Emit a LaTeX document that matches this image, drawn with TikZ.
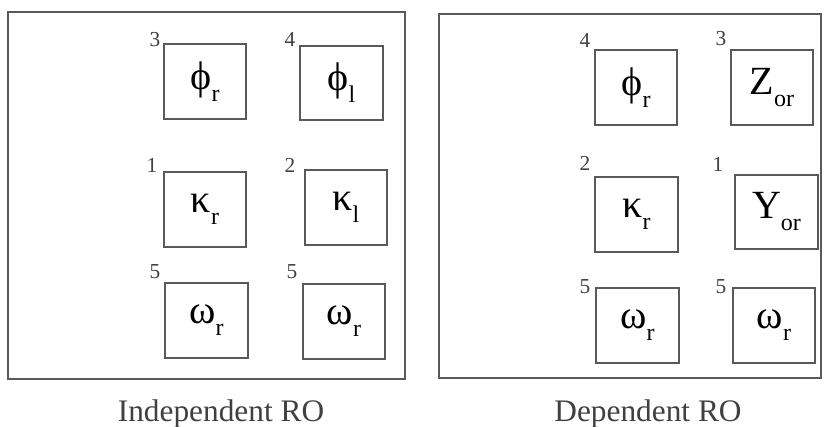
\documentclass[tikz,border=0pt]{standalone}
\usepackage{fontspec}
\setmainfont{Liberation Serif}
\newcommand\sbs[1]{\raisebox{-0.3em}{\fontsize{18}{18}\selectfont #1}}
\newcommand\symtxt[1]{\raisebox{-0.12em}{#1}}
\tikzset{
  frame/.style={draw=black!65, line width=1.3pt},
  sym/.style={draw=black!65, line width=1.3pt, minimum width=62pt, minimum height=56pt, inner sep=0pt, font=\fontsize{30}{30}\selectfont},
  num/.style={font=\fontsize{16}{16}\selectfont, text=black!75, inner sep=0pt},
  captext/.style={font=\fontsize{23.5}{23.5}\selectfont, text=black!75, inner sep=0pt, anchor=base}
}
\begin{document}
\begin{tikzpicture}[x=0.75pt,y=-0.75pt]
\useasboundingbox (0,0) rectangle (826,427);
% frames
\node[frame, minimum width=297.75pt, minimum height=275.25pt, inner sep=0pt] (fl) at (206.5,195.5) {};
\node[frame, minimum width=286.5pt, minimum height=273pt, inner sep=0pt] (fr) at (630,196) {};
% left boxes
\node[sym] (a1) at (205,81.5) {\symtxt{ϕ\sbs{r}}};
\node[sym] (a2) at (341.5,83) {\symtxt{ϕ\sbs{l}}};
\node[sym] (a3) at (205,209.5) {\symtxt{κ\sbs{r}}};
\node[sym] (a4) at (346,207.5) {\symtxt{κ\sbs{l}}};
\node[sym] (a5) at (206.5,320.5) {\symtxt{ω\sbs{r}}};
\node[sym] (a6) at (344,321.5) {\symtxt{ω\sbs{r}}};
% left numbers
\node[num] (n1) at (155,40) {3};
\node[num] (n2) at (290,39) {4};
\node[num] (n3) at (152,165) {1};
\node[num] (n4) at (290,165) {2};
\node[num] (n5) at (155,272) {5};
\node[num] (n6) at (292,272) {5};
% right boxes
\node[sym] (b1) at (636,87.5) {\symtxt{ϕ\sbs{r}}};
\node[sym] (b2) at (772,87.5) {\symtxt{Z\sbs{or}}};
\node[sym] (b3) at (636.5,214.5) {\symtxt{κ\sbs{r}}};
\node[sym] (b4) at (776.5,212) {\symtxt{Y\sbs{or}}};
\node[sym] (b5) at (637.5,325.5) {\symtxt{ω\sbs{r}}};
\node[sym] (b6) at (774,325.5) {\symtxt{ω\sbs{r}}};
% right numbers
\node[num] (m1) at (585,40) {4};
\node[num] (m2) at (721,39) {3};
\node[num] (m3) at (585,163) {2};
\node[num] (m4) at (718,164) {1};
\node[num] (m5) at (585,287) {5};
\node[num] (m6) at (721,287) {5};
% captions
\node[captext] (c1) at (221,422) {Independent RO};
\node[captext] (c2) at (648,422) {Dependent RO};
\end{tikzpicture}
\end{document}
